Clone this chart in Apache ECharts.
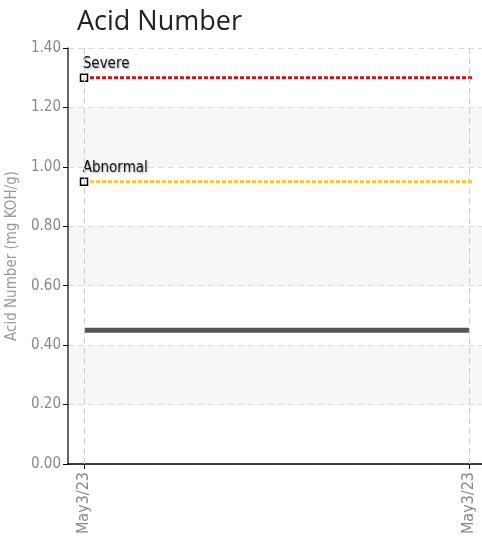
<!DOCTYPE html>
<html>
<head>
<meta charset="utf-8">
<script src="https://cdn.jsdelivr.net/npm/echarts@6/dist/echarts.min.js"></script>
<style>html,body{margin:0;padding:0;background:#fff}#c{width:482px;height:538px}</style>
</head>
<body>
<div id="c"></div>
<script>
const categories = ['May3/23', 'May3/23'];
const acidValues = [0.45, 0.45];
const severeLimit = 1.30;
const abnormalLimit = 0.95;

const FONT = '"Liberation Sans Narrow", "DejaVu Sans Condensed", "Roboto", sans-serif';
const chart = echarts.init(document.getElementById('c'));
const xIdx = categories.map((c, i) => i);

function limitSeries(name, value, color) {
  return {
    type: 'line', name: name,
    data: [
      { value: [0, value], symbol: 'rect', symbolSize: 7,
        itemStyle: { color: '#fff', borderColor: '#000', borderWidth: 1.5 },
        label: { show: true, formatter: name, position: [3, -17], color: '#111',
          fontFamily: FONT, fontSize: 15, textShadowColor: 'rgba(0,0,0,0.35)', textShadowBlur: 2, textShadowOffsetX: 1, textShadowOffsetY: 1 } },
      { value: [1.008, value], symbol: 'none' }
    ],
    lineStyle: { color: color, width: 3, type: [4, 2] },
    silent: true, z: 3, animation: false
  };
}

chart.setOption({
  animation: false,
  title: { text: 'Acid Number', left: 72, top: 4,
    textStyle: { fontFamily: '"Open Sans", "Noto Sans", sans-serif', fontSize: 27, fontWeight: 'normal', color: '#222' } },
  grid: { left: 68, right: 0, top: 48, bottom: 74, outerBoundsMode: 'none', containLabel: false },
  xAxis: {
    type: 'value', min: -0.0416, max: 1.034,
    axisLine: { onZero: false, lineStyle: { color: '#000', width: 1.5 } },
    axisTick: { show: true, customValues: xIdx, length: 5, inside: false, lineStyle: { color: '#000' } },
    axisLabel: { customValues: xIdx, rotate: 90, color: '#888', fontFamily: FONT, fontSize: 16, margin: 8,
      formatter: v => categories[Math.round(v)] },
    splitLine: { show: false }
  },
  yAxis: {
    type: 'value', min: 0, max: 1.4, interval: 0.2,
    name: 'Acid Number (mg KOH/g)', nameLocation: 'middle', nameGap: 47,
    nameTextStyle: { color: '#999', fontFamily: FONT, fontSize: 15 },
    axisLine: { show: true, onZero: false, lineStyle: { color: '#333', width: 1.5 } },
    axisTick: { show: true, length: 5, lineStyle: { color: '#000' } },
    axisLabel: { color: '#888', fontFamily: FONT, fontSize: 15, margin: 7, formatter: v => v.toFixed(2) },
    splitLine: { show: true, lineStyle: { color: '#ddd', type: [6, 4] } },
    splitArea: { show: true, areaStyle: { color: ['#ffffff', '#f7f7f7'] } }
  },
  series: [
    {
      type: 'line', name: 'Acid Number',
      data: xIdx.map(i => [i, acidValues[i]]),
      symbol: 'none', lineStyle: { color: '#555', width: 5 }, z: 2,
      markLine: { silent: true, symbol: 'none', label: { show: false },
        lineStyle: { color: '#ccc', type: [6, 4], width: 1 },
        data: xIdx.map(i => ({ xAxis: i })) }
    },
    limitSeries('Severe', severeLimit, '#ff0000'),
    limitSeries('Abnormal', abnormalLimit, '#ffcc00')
  ]
});
</script>
</body>
</html>
